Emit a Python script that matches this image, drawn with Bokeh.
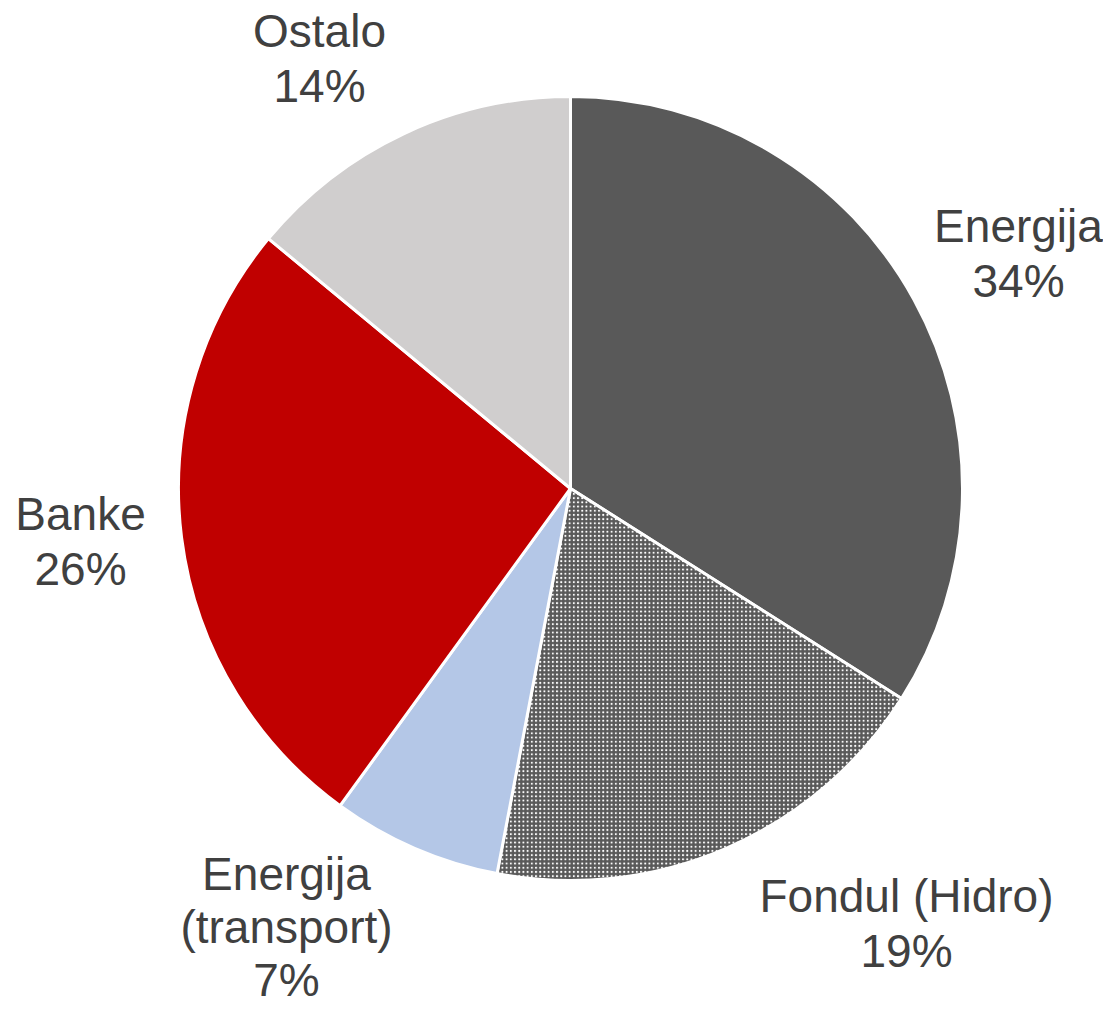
import math
from bokeh.plotting import figure
from bokeh.models import Range1d, ColumnDataSource
from bokeh.core.properties import value
from bokeh.embed import file_html
from bokeh.resources import INLINE

# ---- data ----
categories = ["Energija", "Fondul (Hidro)", "Energija\n(transport)", "Banke", "Ostalo"]
shares = [34, 19, 7, 26, 14]
colors = ["#595959", "#595959", "#B4C7E7", "#C00000", "#D0CECE"]
hatches = [" ", "dot", " ", " ", " "]

# ---- layout (picture pixel coords: label center x, first-line baseline y) ----
label_anchor = [(1018, 242), (906, 912), (286, 890), (80, 530), (319, 47)]
label_step = [55, 55, 53, 55, 55]
baseline_fix = 17
cx, cy, R = 570, 488, 392
PW, PH = 1103, 1012
TOP = 1028

p = figure(width=PW, height=PH, x_range=Range1d(0, PW), y_range=Range1d(TOP - PH, TOP),
           output_backend="svg", toolbar_location=None, min_border=0)
p.axis.visible = False
p.grid.visible = False
p.outline_line_color = None
p.background_fill_color = "white"
p.border_fill_color = "white"

total = sum(shares)
starts, ends = [], []
acc = 0.0
for s in shares:
    starts.append(math.pi / 2 - 2 * math.pi * acc / total)
    acc += s
    ends.append(math.pi / 2 - 2 * math.pi * acc / total)

src = ColumnDataSource(dict(x=[cx] * len(shares), y=[TOP - cy] * len(shares),
                            start=starts, end=ends, color=colors, hatch=hatches))
p.wedge(x="x", y="y", radius=R, start_angle="start", end_angle="end", direction="clock",
        fill_color="color", line_color="white", line_width=3, source=src,
        hatch_pattern="hatch", hatch_color="white", hatch_scale=4.2, hatch_weight=1.5)

tx, ty, tt = [], [], []
for cat, s, (ax, ay), st in zip(categories, shares, label_anchor, label_step):
    lines = cat.split("\n") + [f"{s}%"]
    for i, ln in enumerate(lines):
        tx.append(ax)
        ty.append(TOP - (ay - baseline_fix + i * st))
        tt.append(ln)

p.text(x=tx, y=ty, text=tt, text_align="center", text_baseline="alphabetic",
       text_font=value("Liberation Sans"), text_font_size="46px", text_color="#404040")

open("out.html", "w").write(file_html(p, INLINE))
